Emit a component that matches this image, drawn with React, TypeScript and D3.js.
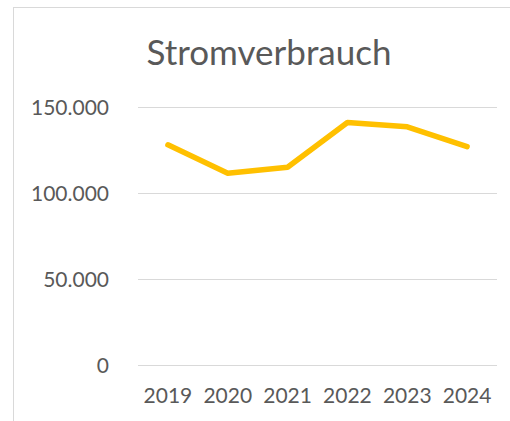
import React, { useEffect, useRef } from "react";
import * as d3 from "d3";

const years = ["2019", "2020", "2021", "2022", "2023", "2024"];
const consumption = [128000, 111500, 115000, 141000, 138500, 127000];
const yTicks = [0, 50000, 100000, 150000];
const chartTitle = "Stromverbrauch";

const App = () => {
  const ref = useRef<SVGSVGElement | null>(null);

  useEffect(() => {
    const svg = d3.select(ref.current);
    svg.selectAll("*").remove();

    const width = 510;
    const height = 421;
    const margin = { top: 107, right: 13, bottom: 56, left: 138 };
    const font = "Lato, 'Liberation Sans', Arial, sans-serif";
    const textColor = "#595959";

    const de = d3.formatLocale({ decimal: ",", thousands: ".", grouping: [3], currency: ["", " €"] });
    const fmt = de.format(",");

    // chart frame (cropped on right and bottom)
    svg.append("rect")
      .attr("x", 13.5)
      .attr("y", 7.5)
      .attr("width", width)
      .attr("height", height)
      .attr("fill", "#fff")
      .attr("stroke", "#d9d9d9")
      .attr("stroke-width", 1);

    const x = d3.scaleBand()
      .domain(years)
      .range([margin.left, width - margin.right])
      .padding(0);

    const y = d3.scaleLinear()
      .domain([0, 150000])
      .range([height - margin.bottom, margin.top]);

    // gridlines
    svg.append("g")
      .selectAll("line")
      .data(yTicks)
      .enter().append("line")
      .attr("x1", margin.left)
      .attr("x2", width - margin.right)
      .attr("y1", d => Math.round(y(d)) + 0.5)
      .attr("y2", d => Math.round(y(d)) + 0.5)
      .attr("stroke", "#d9d9d9")
      .attr("stroke-width", 1);

    // y tick labels
    svg.append("g")
      .selectAll("text")
      .data(yTicks)
      .enter().append("text")
      .attr("x", 109)
      .attr("y", d => y(d))
      .attr("dy", "0.36em")
      .attr("text-anchor", "end")
      .attr("font-family", font)
      .attr("font-size", 21)
      .attr("fill", textColor)
      .text(d => fmt(d));

    // x labels
    svg.append("g")
      .selectAll("text")
      .data(years)
      .enter().append("text")
      .attr("x", d => (x(d) as number) + x.bandwidth() / 2)
      .attr("y", 403)
      .attr("text-anchor", "middle")
      .attr("font-family", font)
      .attr("font-size", 21)
      .attr("fill", textColor)
      .text(d => d);

    // line
    const line = d3.line<number>()
      .x((d, i) => (x(years[i]) as number) + x.bandwidth() / 2)
      .y(d => y(d));

    svg.append("path")
      .datum(consumption)
      .attr("d", line)
      .attr("fill", "none")
      .attr("stroke", "#ffc000")
      .attr("stroke-width", 5.5)
      .attr("stroke-linecap", "round")
      .attr("stroke-linejoin", "round");

    // title
    svg.append("text")
      .attr("x", 269)
      .attr("y", 65)
      .attr("text-anchor", "middle")
      .attr("font-family", font)
      .attr("font-size", 35)
      .attr("fill", textColor)
      .text(chartTitle);
  });

  return (
    <svg
      ref={ref}
      width={510}
      height={421}
      style={{ position: "absolute", left: 0, top: 0, display: "block" }}
    />
  );
};

export default App;
